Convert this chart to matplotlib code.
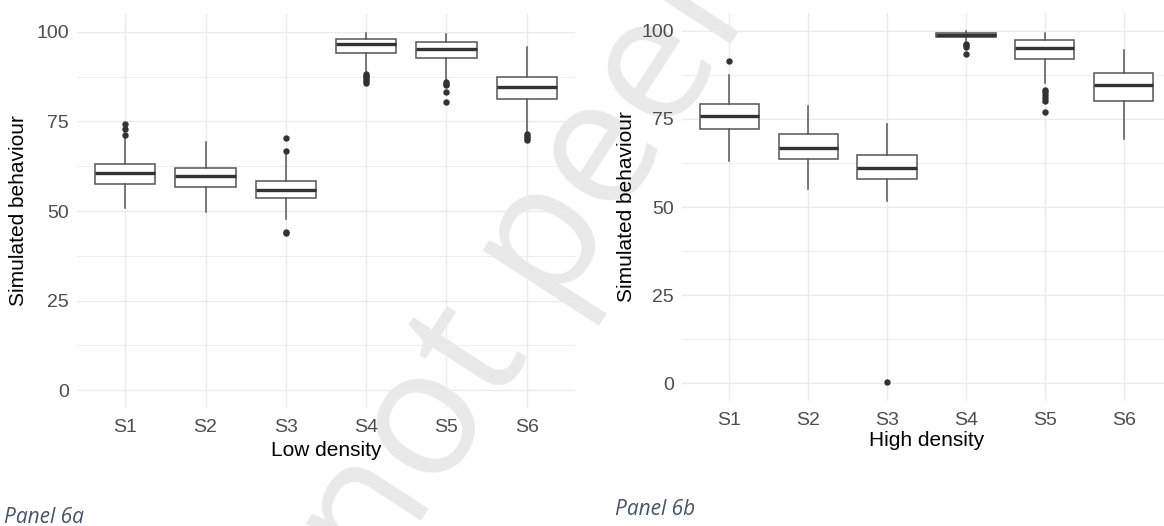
import numpy as np
import matplotlib.pyplot as plt
from matplotlib.ticker import MultipleLocator

plt.rcParams['font.family'] = ['Liberation Sans', 'DejaVu Sans']

# categories
cats = ["S1", "S2", "S3", "S4", "S5", "S6"]

# low density panel
low_med = [60.5, 59.8, 56.0, 96.5, 95.3, 84.5]
low_q1 = [57.6, 56.8, 53.7, 94.1, 92.7, 81.3]
low_q3 = [63.2, 62.1, 58.5, 97.9, 97.1, 87.4]
low_lo = [50.9, 49.8, 47.7, 89.1, 86.3, 72.1]
low_hi = [70.6, 69.3, 65.7, 99.8, 99.5, 95.8]
low_out = [[71.2, 73.0, 74.2], [], [70.4, 66.8, 44.2, 43.8],
           [88.3, 87.8, 87.3, 86.8, 86.3, 85.8], [85.9, 85.5, 85.1, 83.2, 80.4],
           [71.4, 70.9, 70.5, 69.9]]

# high density panel
high_med = [75.9, 66.8, 61.1, 98.9, 95.2, 84.6]
high_q1 = [72.3, 63.5, 58.0, 98.3, 92.1, 80.2]
high_q3 = [79.4, 70.7, 64.7, 99.3, 97.4, 88.2]
high_lo = [63.1, 55.2, 51.8, 97.2, 85.2, 69.2]
high_hi = [87.4, 78.6, 73.7, 100.0, 99.4, 94.7]
high_out = [[91.5], [], [0.2], [96.4, 95.9, 95.4, 93.5],
            [83.3, 82.6, 81.9, 80.9, 80.0, 76.9], []]

fig = plt.figure(figsize=(11.64, 5.26), dpi=100)

# watermark behind everything
fig.text(378 / 1164, -62 / 526, "not peer reviewed", rotation=57, rotation_mode='anchor',
         ha='left', va='baseline', fontsize=128, color='#e9e9e9', family='Open Sans', zorder=-1)


def draw(ax, med, q1, q3, lo, hi, out, xlabel, ylab_x, xlab_y):
    stats = []
    for i in range(len(cats)):
        stats.append(dict(med=med[i], q1=q1[i], q3=q3[i], whislo=lo[i], whishi=hi[i],
                          fliers=out[i], label=cats[i]))
    ax.bxp(stats, positions=range(1, 7), widths=0.75, patch_artist=True, showcaps=False,
           boxprops=dict(facecolor='white', edgecolor='#555555', linewidth=1.1),
           medianprops=dict(color='#333333', linewidth=2.4),
           whiskerprops=dict(color='#555555', linewidth=1.1),
           flierprops=dict(marker='o', markerfacecolor='#333333', markeredgecolor='#333333',
                           markersize=3.6))
    ax.set_xlim(0.4, 6.6)
    ax.set_ylim(-5, 105)
    ax.set_facecolor('none')
    for s in ax.spines.values():
        s.set_visible(False)
    ax.yaxis.set_major_locator(MultipleLocator(25))
    ax.yaxis.set_minor_locator(MultipleLocator(12.5))
    ax.grid(which='major', color='#ebebeb', lw=1.0)
    ax.grid(which='minor', axis='y', color='#ebebeb', lw=0.6)
    ax.set_axisbelow(True)
    ax.tick_params(which='both', length=0)
    ax.tick_params(axis='y', pad=6, labelsize=14, labelcolor='#4d4d4d')
    ax.tick_params(axis='x', pad=8, labelsize=14, labelcolor='#4d4d4d')
    ax.set_ylabel("Simulated behaviour", fontsize=15, color='black')
    ax.set_xlabel(xlabel, fontsize=15, color='black')
    ax.yaxis.set_label_coords(ylab_x, 0.5)
    ax.xaxis.set_label_coords(0.5, xlab_y)
    ax.xaxis.label.set_va('center')
    ax.yaxis.label.set_va('center')


ax1 = fig.add_axes([77 / 1164, 118 / 526, 498 / 1164, 394 / 526])
draw(ax1, low_med, low_q1, low_q3, low_lo, low_hi, low_out, "Low density", -0.1165, -0.109)

ax2 = fig.add_axes([682 / 1164, 125.4 / 526, 489 / 1164, 387.2 / 526])
draw(ax2, high_med, high_q1, high_q3, high_lo, high_hi, high_out, "High density", -0.1135, -0.102)

# panel captions
fig.text(4 / 1164, 3 / 526, "Panel 6a", fontsize=15, style='italic', color='#44546a',
         family='Open Sans', ha='left', va='baseline')
fig.text(615 / 1164, 11 / 526, "Panel 6b", fontsize=15, style='italic', color='#44546a',
         family='Open Sans', ha='left', va='baseline')

fig.savefig('out.png', dpi=100)
